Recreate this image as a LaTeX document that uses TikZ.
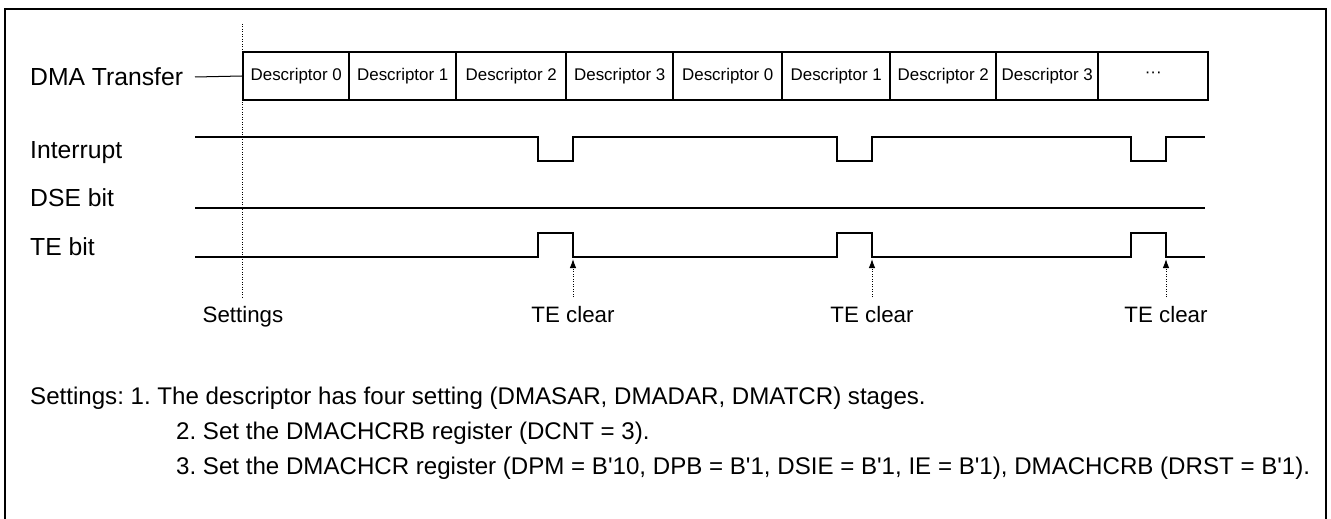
\documentclass[tikz,border=0pt]{standalone}
\usepackage{fontspec}
\setmainfont{Liberation Sans}
\usetikzlibrary{arrows.meta}
\newcommand{\sq}{\textquotesingle}
\frenchspacing
\begin{document}
\begin{tikzpicture}[x=1pt,y=-1pt,
  lbl/.style={anchor=base west,inner sep=0pt,font=\fontsize{24.7}{30}\selectfont},
  desc/.style={draw,line width=2.4pt,minimum height=48pt,inner sep=0pt,anchor=west,font=\fontsize{16.9}{20}\selectfont},
  sig/.style={line width=2.5pt,line join=miter},
  bot/.style={anchor=base west,inner sep=0pt,font=\fontsize{24.1}{29}\selectfont},
  evlabel/.style={anchor=base,inner sep=0pt,font=\fontsize{22.3}{27}\selectfont},
  dots/.style={line width=1pt,dash pattern=on 1pt off 1.5pt},
  tearrow/.style={dots,-{Latex[length=9pt,width=6.5pt]}}]
\useasboundingbox (0,0) rectangle (1331,519);
% frame
\draw[line width=2pt] (5,530) -- (5,9) -- (1326,9) -- (1326,530);
% settings marker line
\coordinate (settop) at (242,24);
\coordinate (setbot) at (242,297);
\draw[dots] (settop) -- (setbot);
% labels
\node[lbl] (ldma) at (30,85) {DMA Transfer};
\node[lbl] (lint) at (30,158) {Interrupt};
\node[lbl] (ldse) at (30,206) {DSE bit};
\node[lbl] (lte) at (30,255) {TE bit};
% descriptor boxes
\node[desc,minimum width=106pt] (d0) at (242,76) {Descriptor 0};
\node[desc,minimum width=107pt] (d1) at (348,76) {Descriptor 1};
\node[desc,minimum width=110pt] (d2) at (455,76) {Descriptor 2};
\node[desc,minimum width=107pt] (d3) at (565,76) {Descriptor 3};
\node[desc,minimum width=109pt] (d4) at (672,76) {Descriptor 0};
\node[desc,minimum width=108pt] (d5) at (781,76) {Descriptor 1};
\node[desc,minimum width=106pt] (d6) at (889,76) {Descriptor 2};
\node[desc,minimum width=102pt] (d7) at (995,76) {Descriptor 3};
\node[desc,minimum width=110pt] (d8) at (1097,76) {\raisebox{3pt}{···}};
\coordinate (dmal) at (195,77);
\draw[line width=1pt] (dmal) -- (d0.west);
% interrupt
\draw[sig] (195,137) -- (538,137) -- (538,161) -- (573,161) -- (573,137)
  -- (837,137) -- (837,161) -- (872,161) -- (872,137)
  -- (1131,137) -- (1131,161) -- (1166,161) -- (1166,137) -- (1205,137);
% DSE
\draw[sig] (195,208) -- (1205,208);
% TE
\draw[sig] (195,257) -- (538,257) -- (538,233) -- (573,233) -- (573,257)
  -- (837,257) -- (837,233) -- (872,233) -- (872,257)
  -- (1131,257) -- (1131,233) -- (1166,233) -- (1166,257) -- (1205,257);
% TE clear arrows
\foreach \i/\x in {1/573,2/872,3/1166}{
  \coordinate (ab\i) at (\x,297);
  \coordinate (at\i) at (\x,259);
  \draw[tearrow] (ab\i) -- (at\i);
  \node[evlabel] (tec\i) at (\x,322) {TE clear};
}
\node[evlabel] (lset) at (243,322) {Settings};
% bottom text
\node[bot] (s1) at (30,404) {Settings: 1. The descriptor has four setting (DMASAR, DMADAR, DMATCR) stages.};
\node[bot] (s2) at (176,439) {2. Set the DMACHCRB register (DCNT = 3).};
\node[bot] (s3) at (176,474) {3. Set the DMACHCR register (DPM = B\sq10, DPB = B\sq1, DSIE = B\sq1, IE = B\sq1), DMACHCRB (DRST = B\sq1).};
\end{tikzpicture}
\end{document}
